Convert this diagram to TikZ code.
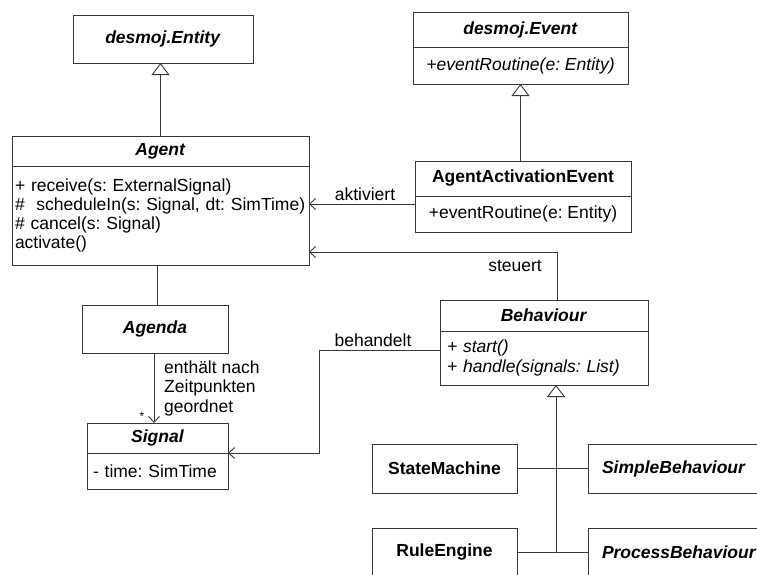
\documentclass[tikz,border=0pt]{standalone}
\usepackage{fontspec}
\setmainfont{Liberation Sans}
\usetikzlibrary{arrows.meta}

\definecolor{linegray}{gray}{0.22}

\tikzset{
  umlfont/.style={font=\fontsize{17.5}{19}\selectfont},
  box/.style={draw=linegray, line width=0.9pt, rectangle, inner sep=0pt,
    outer sep=0pt, anchor=north west, umlfont, text=black},
  leftbox/.style={box, align=left, inner xsep=#1},
  lbl/.style={umlfont, inner sep=0pt, text=black},
  conn/.style={draw=linegray, line width=0.9pt},
  assoc/.style={conn, -{Straight Barb[length=6pt,width=11pt]}},
  gen/.style={conn, -{Triangle[open, length=12pt, width=18pt, fill=white]}}
}

\newcommand{\bi}[1]{\textbf{\textit{#1}}}

\begin{document}
\frenchspacing
\begin{tikzpicture}[x=1pt, y=-1pt]
  \clip (0,0) rectangle (757,574);
  \fill[white] (0,0) rectangle (757,574);

  % desmoj base classes
  \node[box, minimum width=180pt, minimum height=48pt] (entity) at (73,15) {\bi{desmoj.Entity}};
  \node[box, minimum width=215pt, minimum height=35pt] (eventhead) at (413,12) {\bi{desmoj.Event}};
  \node[box, minimum width=215pt, minimum height=37pt] (eventbody) at (eventhead.south west) {\textit{+eventRoutine(e: Entity)}};

  % Agent
  \node[box, minimum width=297pt, minimum height=30pt] (agenthead) at (12,136) {\bi{Agent}};
  \node[leftbox=3pt, text width=291pt, minimum height=99pt] (agentbody) at (agenthead.south west)
    {\mbox{+ receive(s: ExternalSignal)}\\\mbox{\#\ \ scheduleIn(s: Signal, dt: SimTime)}\\\mbox{\# cancel(s: Signal)}\\\mbox{activate()}};

  % AgentActivationEvent
  \node[box, minimum width=216pt, minimum height=35pt] (aaehead) at (415,161) {\textbf{AgentActivationEvent}};
  \node[box, minimum width=216pt, minimum height=36pt] (aaebody) at (aaehead.south west) {+eventRoutine(e: Entity)};

  % Behaviour
  \node[box, minimum width=208pt, minimum height=31pt] (behhead) at (440,300) {\bi{Behaviour}};
  \node[leftbox=7pt, text width=194pt, minimum height=54pt, font=\fontsize{17.5}{20}\selectfont\itshape] (behbody) at (behhead.south west)
    {+ start()\\+ handle(signals: List)};

  % Agenda and Signal
  \node[box, minimum width=146pt, minimum height=48pt] (agenda) at (82,305) {\bi{Agenda}};
  \node[box, minimum width=141pt, minimum height=30pt] (sighead) at (87,423) {\bi{Signal}};
  \node[leftbox=6pt, text width=129pt, minimum height=36pt] (sigbody) at (sighead.south west) {- time: SimTime};

  % Behaviour implementations
  \node[box, minimum width=145pt, minimum height=49pt] (statemachine) at (372,444) {\textbf{StateMachine}};
  \node[leftbox=14pt, text width=170pt, minimum height=49pt] (simple) at (588,444) {\bi{SimpleBehaviour}};
  \node[box, minimum width=145pt, minimum height=49pt] (ruleengine) at (372,528) {\textbf{RuleEngine}};
  \node[leftbox=14pt, text width=170pt, minimum height=49pt] (process) at (588,528) {\bi{ProcessBehaviour}};

  % generalizations
  \draw[gen] (agenthead.north) -- (agenthead.north |- entity.south);
  \draw[gen] (eventbody.south |- aaehead.north) -- (eventbody.south);
  \coordinate (genjoin) at (556,553);
  \draw[conn] (statemachine.east) -- (simple.west);
  \draw[conn] (ruleengine.east) -- (process.west);
  \draw[gen] (genjoin) -- (genjoin |- behbody.south);

  % associations
  \draw[assoc] (aaebody.west |- 0,204) -- (agentbody.east |- 0,204);
  \node[lbl] (aktiviert) at (365,194) {aktiviert};

  \coordinate (steuerknick) at (557,252);
  \draw[assoc] (steuerknick |- behhead.north) -- (steuerknick) -- (agentbody.east |- steuerknick);
  \node[lbl] (steuert) at (515,266) {steuert};

  \coordinate (behknick) at (319,350);
  \draw[assoc] (behbody.west |- behknick) -- (behknick) -- (behknick |- sigbody.north) -- (sigbody.north east);
  \node[lbl] (behandelt) at (373,340) {behandelt};

  \draw[conn] (agenda.north -| 157,0) -- (agentbody.south -| 157,0);
  \draw[assoc] (agenda.south -| 154,0) -- (sighead.north -| 154,0);
  \node[lbl, font=\fontsize{12}{12}\selectfont] (mult) at (142,416) {*};
  \node[lbl, anchor=west, align=left, font=\fontsize{17.5}{19.5}\selectfont] (enthaelt) at (164,388)
    {enthält nach\\Zeitpunkten\\geordnet};
\end{tikzpicture}
\end{document}
